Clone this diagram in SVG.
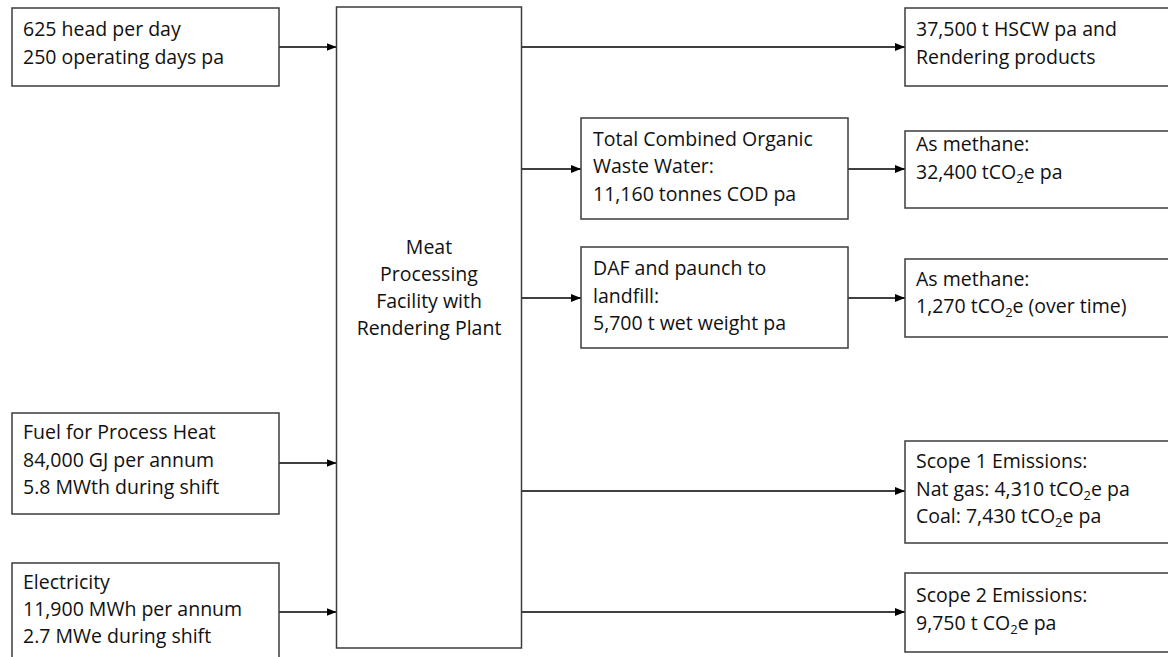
<svg xmlns="http://www.w3.org/2000/svg" width="1168" height="657" viewBox="0 0 1168 657">
<style>
.box{fill:#fff;stroke:#3c3c3c;stroke-width:1.5}
.t{font-family:"Open Sans","Liberation Sans",sans-serif;font-size:19.5px;fill:#111}
.c{text-anchor:middle}
.con{stroke:#000;stroke-width:1.4;fill:none;marker-end:url(#ah)}
</style>
<defs>
<marker id="ah" markerUnits="userSpaceOnUse" markerWidth="10" markerHeight="8" refX="10" refY="4" orient="auto">
<path d="M0,0 L10,4 L0,8 z" fill="#000"/>
</marker>
</defs>
<g id="connectors">
<line class="con" x1="279" y1="47" x2="336.5" y2="47"/>
<line class="con" x1="279" y1="463" x2="336.5" y2="463"/>
<line class="con" x1="279" y1="612" x2="336.5" y2="612"/>
<line class="con" x1="522" y1="47" x2="905" y2="47"/>
<line class="con" x1="522" y1="169" x2="581" y2="169"/>
<line class="con" x1="522" y1="298" x2="581" y2="298"/>
<line class="con" x1="522" y1="491" x2="905" y2="491"/>
<line class="con" x1="522" y1="612" x2="905" y2="612"/>
<line class="con" x1="848" y1="169" x2="905" y2="169"/>
<line class="con" x1="848" y1="298" x2="905" y2="298"/>
</g>
<g id="input-head">
<rect class="box" x="12" y="8" width="267" height="78"/>
<text class="t" x="23" y="36">625 head per day</text>
<text class="t" x="23" y="63.5">250 operating days pa</text>
</g>
<g id="input-fuel">
<rect class="box" x="12" y="413" width="267" height="101"/>
<text class="t" x="23" y="439">Fuel for Process Heat</text>
<text class="t" x="23" y="466.5">84,000 GJ per annum</text>
<text class="t" x="23" y="494">5.8 MWth during shift</text>
</g>
<g id="input-electricity">
<rect class="box" x="12" y="563" width="267" height="110"/>
<text class="t" x="23" y="588.5">Electricity</text>
<text class="t" x="23" y="616">11,900 MWh per annum</text>
<text class="t" x="23" y="643">2.7 MWe during shift</text>
</g>
<g id="facility">
<rect class="box" x="336.5" y="7" width="185" height="641"/>
<text class="t c" x="429" y="254">Meat</text>
<text class="t c" x="429" y="281">Processing</text>
<text class="t c" x="429" y="308">Facility with</text>
<text class="t c" x="429" y="335">Rendering Plant</text>
</g>
<g id="output-hscw">
<rect class="box" x="905" y="8" width="280" height="78"/>
<text class="t" x="916" y="36">37,500 t HSCW pa and</text>
<text class="t" x="916" y="63.5">Rendering products</text>
</g>
<g id="wastewater">
<rect class="box" x="581" y="118" width="267" height="101"/>
<text class="t" x="593" y="145.5">Total Combined Organic</text>
<text class="t" x="593" y="173">Waste Water:</text>
<text class="t" x="593" y="200.5">11,160 tonnes COD pa</text>
</g>
<g id="methane-1">
<rect class="box" x="905" y="131" width="280" height="77"/>
<text class="t" x="916" y="151">As methane:</text>
<text class="t" x="916" y="178.5">32,400 tCO<tspan font-size="13" dy="4">2</tspan><tspan dy="-4">e pa</tspan></text>
</g>
<g id="daf">
<rect class="box" x="581" y="247" width="267" height="101"/>
<text class="t" x="593" y="275">DAF and paunch to</text>
<text class="t" x="593" y="302.5">landfill:</text>
<text class="t" x="593" y="330">5,700 t wet weight pa</text>
</g>
<g id="methane-2">
<rect class="box" x="905" y="259" width="280" height="78"/>
<text class="t" x="916" y="285.5">As methane:</text>
<text class="t" x="916" y="313">1,270 tCO<tspan font-size="13" dy="4">2</tspan><tspan dy="-4">e (over time)</tspan></text>
</g>
<g id="scope-1">
<rect class="box" x="905" y="441" width="280" height="102"/>
<text class="t" x="916" y="468">Scope 1 Emissions:</text>
<text class="t" x="916" y="496">Nat gas: 4,310 tCO<tspan font-size="13" dy="4">2</tspan><tspan dy="-4">e pa</tspan></text>
<text class="t" x="916" y="523">Coal: 7,430 tCO<tspan font-size="13" dy="4">2</tspan><tspan dy="-4">e pa</tspan></text>
</g>
<g id="scope-2">
<rect class="box" x="905" y="573" width="280" height="79"/>
<text class="t" x="916" y="601.5">Scope 2 Emissions:</text>
<text class="t" x="916" y="629.5">9,750 t CO<tspan font-size="13" dy="4">2</tspan><tspan dy="-4">e pa</tspan></text>
</g>
</svg>
